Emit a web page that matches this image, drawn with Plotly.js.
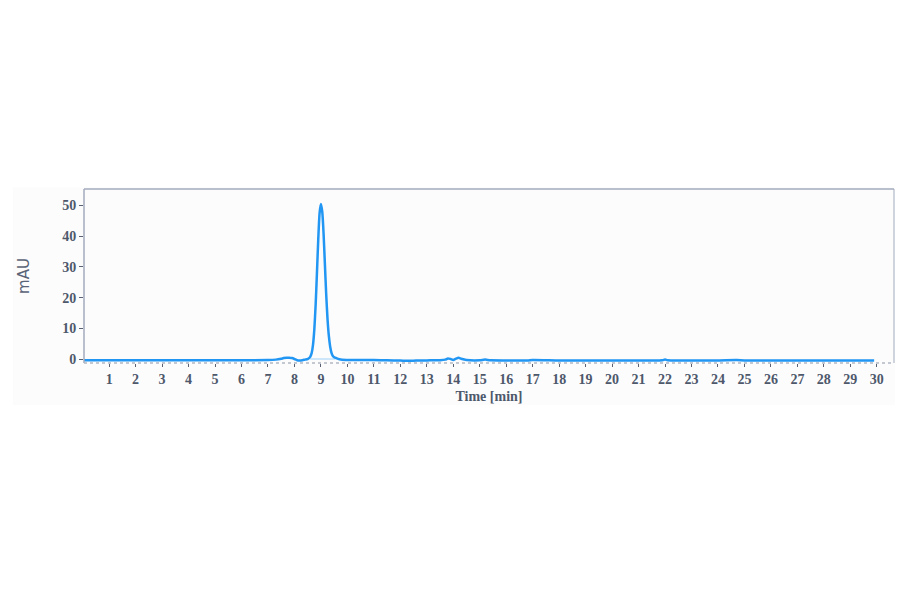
<!DOCTYPE html>
<html>
<head>
<meta charset="utf-8">
<script src="https://cdn.plot.ly/plotly-3.0.1.min.js"></script>
<style>
  html, body { margin: 0; padding: 0; background: #ffffff; }
  #chart { width: 900px; height: 594px; }
</style>
</head>
<body>
<div id="chart"></div>
<script>
// chromatogram, time in minutes, absorbance in mAU
var timeMin = [
  0.05, 1, 2, 3, 4, 5, 6, 7, 7.3, 7.5, 7.6, 7.7, 7.8, 7.9, 8.0, 8.1, 8.2, 8.3, 8.4, 8.5,
  8.55, 8.6, 8.65, 8.7, 8.75, 8.8, 8.85, 8.9, 8.95, 9.0, 9.05, 9.1, 9.15, 9.2, 9.25, 9.3,
  9.35, 9.4, 9.45, 9.5, 9.55, 9.6, 9.7, 9.8, 10, 10.5, 11, 11.5, 12, 12.3, 12.6, 13, 13.5,
  13.7, 13.8, 13.9, 14.0, 14.1, 14.2, 14.3, 14.5, 15, 15.2, 15.4, 16, 16.8, 17, 18, 19, 20,
  21, 21.9, 22.0, 22.1, 23, 24, 24.7, 25, 26, 27, 28, 29, 29.5, 29.9
];
var signalMAU = [
  -0.4, -0.4, -0.4, -0.4, -0.4, -0.4, -0.4, -0.35, -0.2, 0.1, 0.3, 0.4, 0.4, 0.3, 0.0, -0.4, -0.5, -0.4, -0.2, 0.0,
  0.3, 0.8, 1.9, 4.5, 9.5, 17.5, 28, 39, 47.5, 50.5, 48, 41, 31, 21, 13, 7.5,
  4.0, 2.0, 1.0, 0.6, 0.4, 0.2, -0.1, -0.25, -0.3, -0.35, -0.35, -0.4, -0.5, -0.6, -0.5, -0.45, -0.4,
  -0.2, 0.2, 0.0, -0.3, 0.1, 0.4, 0.1, -0.3, -0.4, -0.2, -0.4, -0.45, -0.45, -0.3, -0.45, -0.45, -0.45,
  -0.45, -0.4, -0.15, -0.4, -0.45, -0.45, -0.35, -0.45, -0.45, -0.45, -0.45, -0.45, -0.45, -0.5
];
// integration baseline under the main peak
var baseX = [8.6, 9.55];
var baseY = [0, 0];

var xTicks = [];
for (var t = 1; t <= 30; t++) xTicks.push(t);
var yTicks = [0, 10, 20, 30, 40, 50];

var textColor = "#4e586b";
var frameColor = "#a3abbb";
var tickFont = { family: "Liberation Serif", size: 14, color: textColor, weight: "bold" };

var data = [
  {
    x: baseX, y: baseY, type: "scatter", mode: "lines",
    line: { color: "#9fd0f7", width: 1 }, hoverinfo: "skip"
  },
  {
    x: timeMin, y: signalMAU, type: "scatter", mode: "lines",
    line: { color: "#2196f3", width: 2.5, shape: "spline", smoothing: 0.6 }
  }
];

var layout = {
  width: 900, height: 594,
  margin: { l: 84, r: 6, t: 189, b: 231, pad: 0 },
  paper_bgcolor: "#ffffff",
  plot_bgcolor: "#fcfcfe",
  showlegend: false,
  xaxis: {
    range: [0.05, 30.65],
    tickvals: xTicks,
    ticks: "outside", ticklen: 3, tickcolor: "#5a6272", tickwidth: 1,
    showgrid: false, zeroline: false, showline: false,
    tickfont: tickFont,
    title: { text: "Time [min]", font: { family: "Liberation Serif", size: 14, color: textColor, weight: "bold" }, standoff: 5 }
  },
  yaxis: {
    range: [-1.3, 55.4],
    tickvals: yTicks,
    ticks: "outside", ticklen: 4, tickcolor: "#5a6272", tickwidth: 1,
    showgrid: false, zeroline: false, showline: false,
    tickfont: tickFont,
    title: { text: "mAU", font: { family: "DejaVu Sans", size: 15, color: "#5a6478" }, standoff: 28 }
  },
  shapes: [
    // faint panel behind the whole figure
    { type: "rect", xref: "paper", yref: "paper", x0: -0.0877, x1: 1.0012, y0: -0.241, y1: 1.01,
      fillcolor: "#fcfcfd", line: { width: 0 }, layer: "below" },
    // frame: left, top, right solid, bottom dotted
    { type: "line", xref: "paper", yref: "paper", x0: 0, x1: 0, y0: 0, y1: 1, line: { color: frameColor, width: 1.5 } },
    { type: "line", xref: "paper", yref: "paper", x0: 0, x1: 1, y0: 1, y1: 1, line: { color: frameColor, width: 1.5 } },
    { type: "line", xref: "paper", yref: "paper", x0: 1, x1: 1, y0: 0, y1: 1, line: { color: frameColor, width: 1 } },
    { type: "line", xref: "paper", yref: "paper", x0: 0, x1: 1, y0: 0, y1: 0, line: { color: "#b0b6c2", width: 1.5, dash: "dot" } }
  ]
};

Plotly.newPlot("chart", data, layout, { displayModeBar: false, staticPlot: true });
</script>
</body>
</html>
